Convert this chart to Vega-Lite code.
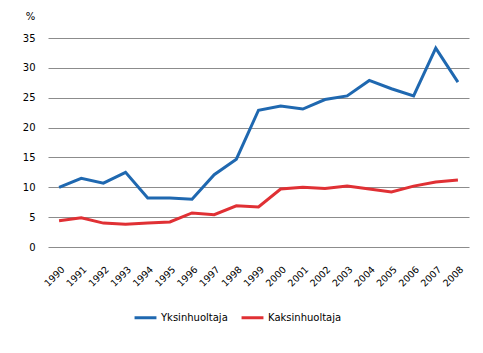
{
  "$schema": "https://vega.github.io/schema/vega-lite/v6.json",
  "width": 421,
  "height": 209,
  "autosize": "none",
  "padding": {"left": 48, "top": 38, "right": 14, "bottom": 106},
  "background": "white",
  "config": {
    "view": {"stroke": null},
    "font": "DejaVu Sans",
    "axis": {"labelFont": "DejaVu Sans", "labelFontSize": 10, "labelColor": "#000", "titleFont": "DejaVu Sans"},
    "legend": {"labelFont": "DejaVu Sans", "labelFontSize": 10, "labelColor": "#000"}
  },
  "data": {
    "values": [
      {"year": "1990", "series": "Yksinhuoltaja", "value": 10.0},
      {"year": "1991", "series": "Yksinhuoltaja", "value": 11.5},
      {"year": "1992", "series": "Yksinhuoltaja", "value": 10.7},
      {"year": "1993", "series": "Yksinhuoltaja", "value": 12.5},
      {"year": "1994", "series": "Yksinhuoltaja", "value": 8.2},
      {"year": "1995", "series": "Yksinhuoltaja", "value": 8.2},
      {"year": "1996", "series": "Yksinhuoltaja", "value": 8.0},
      {"year": "1997", "series": "Yksinhuoltaja", "value": 12.1},
      {"year": "1998", "series": "Yksinhuoltaja", "value": 14.7},
      {"year": "1999", "series": "Yksinhuoltaja", "value": 22.9},
      {"year": "2000", "series": "Yksinhuoltaja", "value": 23.6},
      {"year": "2001", "series": "Yksinhuoltaja", "value": 23.1},
      {"year": "2002", "series": "Yksinhuoltaja", "value": 24.7},
      {"year": "2003", "series": "Yksinhuoltaja", "value": 25.3},
      {"year": "2004", "series": "Yksinhuoltaja", "value": 27.9},
      {"year": "2005", "series": "Yksinhuoltaja", "value": 26.5},
      {"year": "2006", "series": "Yksinhuoltaja", "value": 25.3},
      {"year": "2007", "series": "Yksinhuoltaja", "value": 33.3},
      {"year": "2008", "series": "Yksinhuoltaja", "value": 27.6},
      {"year": "1990", "series": "Kaksinhuoltaja", "value": 4.4},
      {"year": "1991", "series": "Kaksinhuoltaja", "value": 4.9},
      {"year": "1992", "series": "Kaksinhuoltaja", "value": 4.0},
      {"year": "1993", "series": "Kaksinhuoltaja", "value": 3.8},
      {"year": "1994", "series": "Kaksinhuoltaja", "value": 4.0},
      {"year": "1995", "series": "Kaksinhuoltaja", "value": 4.2},
      {"year": "1996", "series": "Kaksinhuoltaja", "value": 5.7},
      {"year": "1997", "series": "Kaksinhuoltaja", "value": 5.4},
      {"year": "1998", "series": "Kaksinhuoltaja", "value": 6.9},
      {"year": "1999", "series": "Kaksinhuoltaja", "value": 6.7},
      {"year": "2000", "series": "Kaksinhuoltaja", "value": 9.7},
      {"year": "2001", "series": "Kaksinhuoltaja", "value": 10.0},
      {"year": "2002", "series": "Kaksinhuoltaja", "value": 9.8},
      {"year": "2003", "series": "Kaksinhuoltaja", "value": 10.2},
      {"year": "2004", "series": "Kaksinhuoltaja", "value": 9.7},
      {"year": "2005", "series": "Kaksinhuoltaja", "value": 9.2},
      {"year": "2006", "series": "Kaksinhuoltaja", "value": 10.2},
      {"year": "2007", "series": "Kaksinhuoltaja", "value": 10.9},
      {"year": "2008", "series": "Kaksinhuoltaja", "value": 11.2}
    ]
  },
  "mark": {"type": "line", "strokeWidth": 3, "strokeJoin": "miter"},
  "encoding": {
    "x": {
      "field": "year", "type": "ordinal",
      "scale": {"type": "point", "padding": 0.5},
      "axis": {"title": null, "labelAngle": -45, "labelFontSize": 9.5, "domain": false, "ticks": false, "grid": false, "labelPadding": 17}
    },
    "y": {
      "field": "value", "type": "quantitative",
      "scale": {"domain": [0, 35], "nice": false, "zero": true},
      "axis": {
        "values": [0, 5, 10, 15, 20, 25, 30, 35],
        "title": "%", "titleAngle": 0, "titleFontSize": 10, "titleFontWeight": "normal",
        "titleX": -18, "titleY": -22, "titleAlign": "center", "titleBaseline": "middle",
        "domain": false, "ticks": false, "labelPadding": 13,
        "gridColor": "#8c8c8c", "gridWidth": 1
      }
    },
    "color": {
      "field": "series", "type": "nominal",
      "scale": {"domain": ["Yksinhuoltaja", "Kaksinhuoltaja"], "range": ["#1f68b0", "#e03034"]},
      "legend": {
        "title": null, "orient": "none", "direction": "horizontal",
        "legendX": 85, "legendY": 267,
        "symbolType": "stroke", "symbolSize": 480, "symbolStrokeWidth": 3,
        "labelOffset": 3, "columnPadding": 7
      }
    }
  }
}
